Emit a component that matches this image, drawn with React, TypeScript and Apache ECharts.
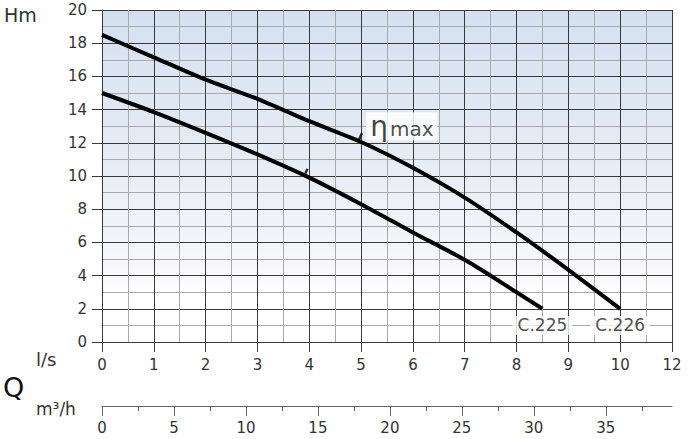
import React, { useEffect, useRef } from 'react';
import * as echarts from 'echarts';

// Flow (l/s) ticks: 0..11 grid, last label printed as "12" in the original
const lsTickLabels = ['0', '1', '2', '3', '4', '5', '6', '7', '8', '9', '10', '12'];
// m3/h secondary scale (1 l/s = 3.6 m3/h)
const m3hAxisMax = 39.6;
const m3hMajorMax = 35;
const m3hMajorStep = 5;
const m3hMinorMax = 37.5;
const m3hMinorStep = 2.5;

// Curves (Q in l/s, H in m)
const c226Q = [0, 1, 2, 3, 4, 5, 6, 7, 8, 9, 10];
const c226H = [18.5, 17.15, 15.8, 14.65, 13.3, 12.05, 10.5, 8.7, 6.6, 4.35, 2];
const c225Q = [0, 1, 2, 3, 4, 5, 6, 7, 8, 8.5];
const c225H = [15, 13.85, 12.6, 11.3, 9.9, 8.3, 6.6, 4.95, 3.0, 2];

// Max efficiency marks
const etaQ = [4.98, 3.93];
const etaH = [12.08, 9.95];

// Curve labels
const curveNames = ['C.225', 'C.226'];
const curveLabelQ = [8.5, 10];
const curveLabelH = [1, 1];

const FONT = '"DejaVu Sans", sans-serif';
const DARK = '#3a3a3a';
const MINOR = '#aaaaaa';
const TXT = '#333333';
const AX2 = '#666666';

const zip = (a: number[], b: number[]) => a.map((v, i) => [v, b[i]]);

export default function App() {
  const ref = useRef<HTMLDivElement>(null);
  useEffect(() => {
    const chart = echarts.init(ref.current!, null, { renderer: 'svg' });
    const plotLeft = 102;
    const plotWidth = 570;
    const pxPerM3h = plotWidth / m3hAxisMax;
    const option: any = {
      animation: false,
      backgroundColor: '#ffffff',
      grid: [
        {
          left: plotLeft, top: 10, width: plotWidth, height: 332, show: true, borderWidth: 0,
          backgroundColor: {
            type: 'linear', x: 0, y: 0, x2: 0, y2: 1,
            colorStops: [
              { offset: 0, color: '#d4e0f1' },
              { offset: 0.45, color: '#e6ecf5' },
              { offset: 0.78, color: '#f8f8fb' },
              { offset: 0.86, color: '#ffffff' },
              { offset: 1, color: '#ffffff' },
            ],
          },
        },
        { left: plotLeft, top: 396, width: plotWidth, height: 10, show: false },
        { left: plotLeft, top: 396, width: m3hMajorMax * pxPerM3h, height: 10, show: false },
        { left: plotLeft, top: 396, width: m3hMinorMax * pxPerM3h, height: 10, show: false },
      ],
      xAxis: [
        {
          gridIndex: 0, type: 'value', min: 0, max: 11, interval: 1, position: 'bottom',
          axisLine: { show: true, lineStyle: { color: DARK, width: 1 } },
          axisTick: { show: true, length: 10, lineStyle: { color: DARK, width: 1 } },
          axisLabel: {
            margin: 15, color: TXT, fontSize: 15, fontFamily: FONT,
            formatter: (v: number) => lsTickLabels[Math.round(v)] ?? '',
          },
          splitLine: { show: true, lineStyle: { color: DARK, width: 1 } },
          minorTick: { show: false, splitNumber: 2 },
          minorSplitLine: { show: true, lineStyle: { color: MINOR, width: 1 } },
        },
        {
          gridIndex: 1, type: 'value', min: 0, max: m3hAxisMax, position: 'bottom',
          axisLine: { show: true, lineStyle: { color: AX2, width: 1 } },
          axisTick: { show: false },
          axisLabel: { show: false },
          splitLine: { show: false },
        },
        {
          gridIndex: 2, type: 'value', min: 0, max: m3hMajorMax, interval: m3hMajorStep, position: 'bottom',
          axisLine: { show: false },
          axisTick: { show: true, length: 10, lineStyle: { color: AX2, width: 1 } },
          axisLabel: { margin: 14, color: TXT, fontSize: 15, fontFamily: FONT },
          splitLine: { show: false },
        },
        {
          gridIndex: 3, type: 'value', min: 0, max: m3hMinorMax, interval: m3hMinorStep, position: 'bottom',
          axisLine: { show: false },
          axisTick: { show: true, length: 5, lineStyle: { color: AX2, width: 1 } },
          axisLabel: { show: false },
          splitLine: { show: false },
        },
      ],
      yAxis: [
        {
          gridIndex: 0, type: 'value', min: 0, max: 20, interval: 2,
          axisLine: { show: true, lineStyle: { color: DARK, width: 1 } },
          axisTick: { show: true, length: 10, lineStyle: { color: DARK, width: 1 } },
          axisLabel: { margin: 15, color: TXT, fontSize: 15, fontFamily: FONT },
          splitLine: { show: true, lineStyle: { color: DARK, width: 1 } },
          minorTick: { show: false, splitNumber: 2 },
          minorSplitLine: { show: true, lineStyle: { color: MINOR, width: 1 } },
        },
        { gridIndex: 1, type: 'value', show: false, min: 0, max: 1 },
        { gridIndex: 2, type: 'value', show: false, min: 0, max: 1 },
        { gridIndex: 3, type: 'value', show: false, min: 0, max: 1 },
      ],
      graphic: [
        { type: 'text', left: 4, top: 5, style: { text: 'Hm', fontSize: 19, fontFamily: FONT, fill: TXT } },
        { type: 'text', left: 36, top: 350, style: { text: 'l/s', fontSize: 18, fontFamily: FONT, fill: TXT } },
        { type: 'text', left: 3, top: 374, style: { text: 'Q', fontSize: 27, fontFamily: FONT, fill: '#111' } },
        { type: 'text', left: 36, top: 400, style: { text: 'm³/h', fontSize: 17, fontFamily: FONT, fill: TXT } },
      ],
      series: [
        {
          type: 'line', name: 'C.226', xAxisIndex: 0, yAxisIndex: 0,
          data: zip(c226Q, c226H), smooth: 0.25, symbol: 'none',
          lineStyle: { color: '#000', width: 4 }, z: 3,
        },
        {
          type: 'line', name: 'C.225', xAxisIndex: 0, yAxisIndex: 0,
          data: zip(c225Q, c225H), smooth: 0.25, symbol: 'none',
          lineStyle: { color: '#000', width: 4 }, z: 3,
        },
        {
          type: 'scatter', xAxisIndex: 0, yAxisIndex: 0,
          data: zip(etaQ, etaH), symbol: 'rect', symbolSize: [2.5, 9],
          symbolRotate: -24, symbolOffset: [0, -4], itemStyle: { color: '#000' }, z: 4,
        },
        {
          type: 'scatter', xAxisIndex: 0, yAxisIndex: 0,
          data: curveNames.map((n, i) => ({ name: n, value: [curveLabelQ[i], curveLabelH[i]] })),
          symbolSize: 1, itemStyle: { color: 'rgba(0,0,0,0)' },
          label: {
            show: true, position: 'inside', formatter: '{b}', fontSize: 17, fontFamily: FONT,
            color: '#222', backgroundColor: '#ffffff', padding: [1, 5],
          },
          z: 5,
        },
        {
          type: 'scatter', xAxisIndex: 0, yAxisIndex: 0,
          data: [{ name: 'ηmax', value: [5.79, 13.0] }],
          symbolSize: 1, itemStyle: { color: 'rgba(0,0,0,0)' },
          label: {
            show: true, position: 'inside', formatter: '{eta|η}{max|max}',
            backgroundColor: '#ffffff', padding: [0, 4],
            rich: {
              eta: { fontSize: 28, fontFamily: FONT, color: '#111', verticalAlign: 'bottom' },
              max: { fontSize: 20, fontFamily: FONT, color: '#222', padding: [0, 0, 1, 2], verticalAlign: 'bottom' },
            },
          },
          z: 5,
        },
      ],
    };
    chart.setOption(option);
    return () => chart.dispose();
  }, []);
  return (
    <div
      ref={ref}
      style={{ position: 'absolute', left: 0, top: 0, width: 695, height: 439, background: '#fff' }}
    />
  );
}
